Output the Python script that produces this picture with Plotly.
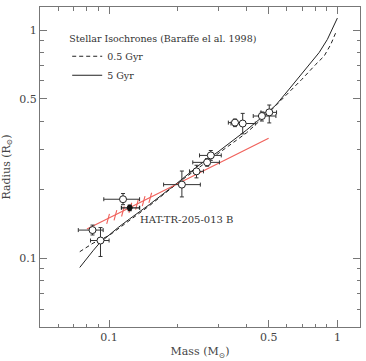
import plotly.graph_objects as go
import numpy as np

# Baraffe et al. 1998 isochrones
iso5_mass = [0.0744, 0.08, 0.085, 0.091, 0.1, 0.11, 0.123, 0.15, 0.2, 0.25, 0.3, 0.4, 0.5, 0.538, 0.615, 0.728, 0.832, 0.904, 0.951, 1.0]
iso5_rad = [0.0913, 0.1005, 0.108, 0.117, 0.127, 0.137, 0.149, 0.172, 0.215, 0.258, 0.293, 0.365, 0.44, 0.47, 0.552, 0.674, 0.798, 0.911, 1.024, 1.13]

iso05_mass = [0.0744, 0.085, 0.1, 0.115, 0.15, 0.2, 0.25, 0.3, 0.4, 0.5, 0.6, 0.7, 0.805, 0.875, 0.936, 0.99]
iso05_rad = [0.107, 0.1166, 0.126, 0.140, 0.170, 0.214, 0.252, 0.287, 0.355, 0.435, 0.52, 0.61, 0.709, 0.77, 0.867, 0.99]

# Eclipsing binary measurements
obs_mass = [0.0846, 0.0917, 0.1151, 0.2084, 0.2415, 0.2688, 0.279, 0.356, 0.3848, 0.467, 0.503]
obs_mass_lo = [0.0733, 0.0829, 0.0948, 0.1733, 0.225, 0.2326, 0.249, 0.333, 0.342, 0.428, 0.4627]
obs_mass_hi = [0.0942, 0.1000, 0.136, 0.251, 0.259, 0.3043, 0.310, 0.3848, 0.437, 0.538, 0.5415]
obs_rad = [0.1331, 0.1198, 0.1817, 0.2106, 0.2407, 0.2636, 0.2827, 0.3936, 0.390, 0.4207, 0.4365]
obs_rad_lo = [0.1267, 0.102, 0.172, 0.186, 0.2254, 0.2535, 0.269, 0.378, 0.3514, 0.40, 0.3924]
obs_rad_hi = [0.140, 0.1365, 0.1925, 0.2415, 0.256, 0.274, 0.297, 0.408, 0.432, 0.438, 0.47]

# HAT-TR-205-013 B
hat_mass = [0.1231]
hat_mass_lo = [0.1133]
hat_mass_hi = [0.136]
hat_rad = [0.1667]
hat_rad_lo = [0.162]
hat_rad_hi = [0.171]

# red relation
red_mass = [0.08, 0.5]
red_rad = [0.1345, 0.336]
hash_mass = [0.099, 0.1066, 0.115, 0.1239, 0.1325, 0.1417, 0.1515]
hash_rad = [0.149, 0.1546, 0.1606, 0.1667, 0.1723, 0.1783, 0.1844]

x_tick_major = [0.1, 0.5, 1]
x_tick_text = ["0.1", "0.5", "1"]
minor_vals = [0.06, 0.07, 0.08, 0.09, 0.2, 0.3, 0.4, 0.6, 0.7, 0.8, 0.9]

FONT = "DejaVu Serif"
TXT = "#444444"
AX = "#777777"

fig = go.Figure()

fig.add_trace(go.Scatter(x=iso05_mass, y=iso05_rad, mode="lines", name="0.5 Gyr",
                         line=dict(color="#222", width=1, dash="4px,3px")))
fig.add_trace(go.Scatter(x=iso5_mass, y=iso5_rad, mode="lines", name="5 Gyr",
                         line=dict(color="#222", width=1)))

fig.add_trace(go.Scatter(x=red_mass, y=red_rad, mode="lines", showlegend=False,
                         line=dict(color="#f0605a", width=1.1)))

# hash marks on red line
TILT = 0.006
HALF = 0.022
hx, hy = [], []
for m, r in zip(hash_mass, hash_rad):
    hx += [m * 10 ** (-TILT), m * 10 ** TILT, None]
    hy += [r * 10 ** (-HALF), r * 10 ** HALF, None]
fig.add_trace(go.Scatter(x=hx, y=hy, mode="lines", showlegend=False,
                         line=dict(color="#f0605a", width=1.1)))

def errs(v, lo, hi):
    return [h - x for x, h in zip(v, hi)], [x - l for x, l in zip(v, lo)]

ex_p, ex_m = errs(obs_mass, obs_mass_lo, obs_mass_hi)
ey_p, ey_m = errs(obs_rad, obs_rad_lo, obs_rad_hi)
fig.add_trace(go.Scatter(x=obs_mass, y=obs_rad, mode="markers", showlegend=False,
                         marker=dict(size=7, color="white", line=dict(color="#222", width=1)),
                         error_x=dict(type="data", array=ex_p, arrayminus=ex_m, color="#333", thickness=1, width=2),
                         error_y=dict(type="data", array=ey_p, arrayminus=ey_m, color="#333", thickness=1, width=2)))

hx_p, hx_m = errs(hat_mass, hat_mass_lo, hat_mass_hi)
hy_p, hy_m = errs(hat_rad, hat_rad_lo, hat_rad_hi)
fig.add_trace(go.Scatter(x=hat_mass, y=hat_rad, mode="markers", showlegend=False,
                         marker=dict(size=5, color="#111", line=dict(color="#111", width=1)),
                         error_x=dict(type="data", array=hx_p, arrayminus=hx_m, color="#222", thickness=1.3, width=2),
                         error_y=dict(type="data", array=hy_p, arrayminus=hy_m, color="#222", thickness=1.3, width=2)))

fig.add_annotation(x=np.log10(0.1335), y=np.log10(0.1487), text="HAT-TR-205-013 B",
                   showarrow=False, xanchor="left", yanchor="middle",
                   font=dict(family=FONT, size=10, color="#333"))

axis_common = dict(type="log", showgrid=False, zeroline=False, showline=True, linecolor=AX,
                   linewidth=1, mirror="allticks", ticks="inside", ticklen=7, tickcolor=AX,
                   tickmode="array", tickvals=x_tick_major, ticktext=x_tick_text,
                   tickfont=dict(family=FONT, size=11, color=TXT),
                   minor=dict(tickmode="array", tickvals=minor_vals, ticks="inside", ticklen=3.5,
                              tickcolor=AX, showgrid=False))

fig.update_xaxes(**axis_common, range=[-1.3026, 0.0991],
                 title=dict(text="Mass (M<sub>⊙</sub>)", font=dict(family=FONT, size=11, color=TXT), standoff=4))
fig.update_yaxes(**axis_common, range=[-1.3004, 0.1016],
                 title=dict(text="Radius (R<sub>⊙</sub>)", font=dict(family=FONT, size=11, color=TXT), standoff=6))

fig.update_layout(
    width=366, height=361,
    margin=dict(l=40, r=5, t=7, b=32),
    paper_bgcolor="white", plot_bgcolor="white",
    legend=dict(x=0.085, y=0.93, xanchor="left", yanchor="top",
                title=dict(text="Stellar Isochrones (Baraffe el al. 1998)", side="top",
                           font=dict(family=FONT, size=9.5, color="#333")),
                font=dict(family=FONT, size=9.5, color="#333"),
                bgcolor="rgba(0,0,0,0)", itemwidth=30, tracegroupgap=0),
    font=dict(family=FONT, color=TXT),
)

fig.write_html("out.html")
